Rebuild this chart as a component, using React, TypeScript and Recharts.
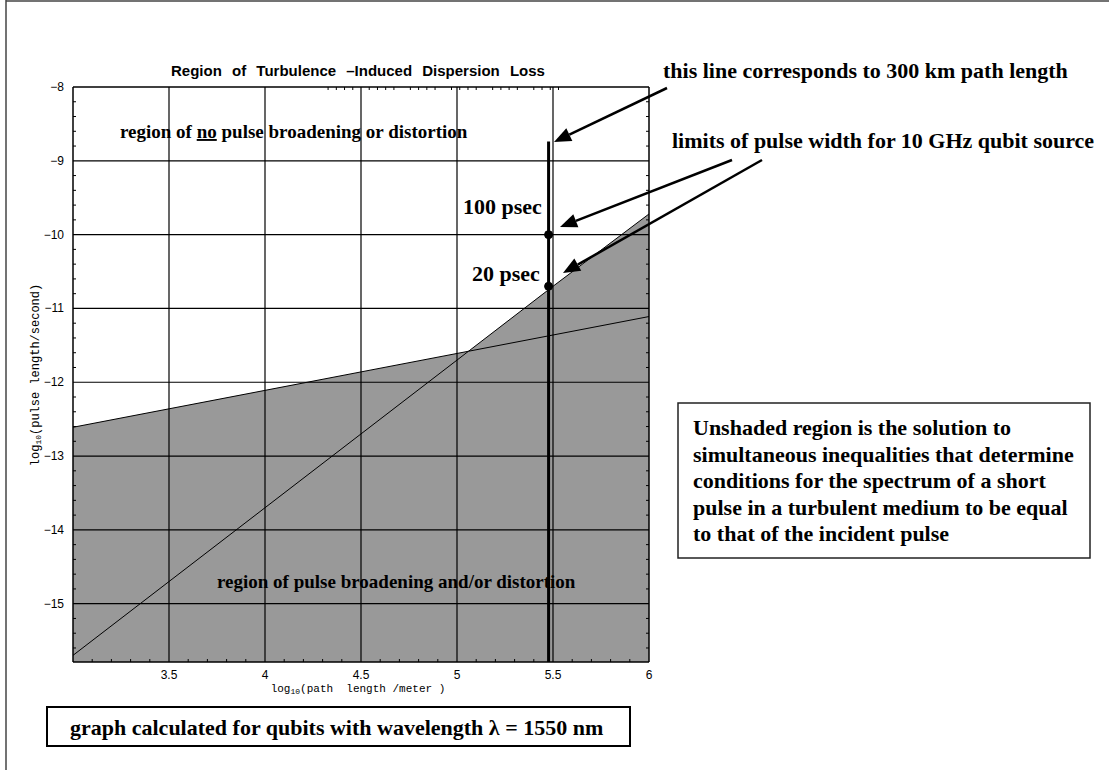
import React from 'react';
import { ComposedChart, Area, Line, XAxis, YAxis, ReferenceLine, ReferenceDot } from 'recharts';

// log10(path length / m) sample points, incl. the crossing of the two limits
const pathLength = [3, 3.5, 4, 4.5, 5, 5.06, 5.5, 6];
// shallow limit (dispersion)
const dispersionLimit = [-12.61, -12.36, -12.11, -11.86, -11.61, -11.58, -11.36, -11.11];
// steep limit (turbulence)
const turbulenceLimit = [-15.7, -14.7, -13.7, -12.7, -11.7, -11.58, -10.7, -9.72];

// 300 km path length marker and pulse width limits for a 10 GHz source
const path300km = 5.477;
const markerTop = -8.74;
const pulseLimits = [-10, -10.7];

const xTickLabels = [3.5, 4, 4.5, 5, 5.5, 6];
const yTickLabels = [-8, -9, -10, -11, -12, -13, -14, -15];
const xGrid = [3.5, 4, 4.5, 5, 5.5];
const yGrid = [-9, -10, -11, -12, -13, -14, -15];

const X_DOMAIN: [number, number] = [3, 6];
const Y_DOMAIN: [number, number] = [-15.79, -8];

const round = (v: number) => Math.round(v * 100) / 100;
const xTicks = Array.from({ length: 31 }, (_, i) => round(3 + i * 0.1));
const yTicks = Array.from({ length: 39 }, (_, i) => round(-15.6 + i * 0.2));

const rows = pathLength.map((x, i) => ({
  x,
  dispersion: dispersionLimit[i],
  turbulence: turbulenceLimit[i],
  envelope: Math.max(dispersionLimit[i], turbulenceLimit[i]),
}));

const SERIF = '"Liberation Serif", "Times New Roman", serif';
const SANS = '"Liberation Sans", Arial, sans-serif';
const MONO = '"Liberation Mono", "Courier New", monospace';

const near = (a: number, b: number) => Math.abs(a - b) < 1e-6;
const onStep = (v: number, step: number) => near(v / step, Math.round(v / step));

const BottomTick = ({ x, y, payload }: any) => {
  const v = payload.value;
  const label = xTickLabels.find((t) => near(t, v));
  return (
    <g>
      {!onStep(v, 0.5) && <line x1={x} x2={x} y1={y} y2={y - 3} stroke="#000" />}
      {label !== undefined && (
        <text x={x} y={y + 17} textAnchor="middle" fontFamily={SANS} fontSize={12} fill="#000">
          {String(label)}
        </text>
      )}
    </g>
  );
};

const TopTick = ({ x, y, payload }: any) =>
  onStep(payload.value, 0.5) ? <g /> : <line x1={x} x2={x} y1={y} y2={y + 3} stroke="#000" />;

const LeftTick = ({ x, y, payload }: any) => {
  const v = payload.value;
  const label = yTickLabels.find((t) => near(t, v));
  return (
    <g>
      {!onStep(v, 1) && <line x1={x} x2={x + 3} y1={y} y2={y} stroke="#000" />}
      {label !== undefined && (
        <text x={x - 9} y={y + 4} textAnchor="end" fontFamily={SANS} fontSize={12} fill="#000">
          {'\u2212' + Math.abs(label)}
        </text>
      )}
    </g>
  );
};

const RightTick = ({ x, y, payload }: any) =>
  onStep(payload.value, 1) ? <g /> : <line x1={x} x2={x - 3} y1={y} y2={y} stroke="#000" />;

const Arrow = ({ x1, y1, x2, y2 }: { x1: number; y1: number; x2: number; y2: number }) => {
  const len = Math.hypot(x2 - x1, y2 - y1);
  const ux = (x2 - x1) / len;
  const uy = (y2 - y1) / len;
  const hl = 17;
  const hw = 7;
  const bx = x2 - ux * hl;
  const by = y2 - uy * hl;
  return (
    <g>
      <line x1={x1} y1={y1} x2={bx} y2={by} stroke="#000" strokeWidth={2.5} />
      <polygon
        points={`${x2},${y2} ${bx - uy * hw},${by + ux * hw} ${bx + uy * hw},${by - ux * hw}`}
        fill="#000"
      />
    </g>
  );
};

const boxLines = [
  'Unshaded region is the solution to',
  'simultaneous inequalities that determine',
  'conditions for the spectrum of a short',
  'pulse in a turbulent medium to be equal',
  'to that of the incident pulse',
];

const axisLine = { stroke: '#000', strokeWidth: 1.5 };

export default function App() {
  return (
    <div style={{ position: 'absolute', left: 0, top: 0, width: 1109, height: 772, background: '#fff' }}>
      <ComposedChart
        width={1109}
        height={772}
        data={rows}
        margin={{ top: 86, right: 459, bottom: 80, left: 33 }}
      >
        <XAxis
          dataKey="x"
          type="number"
          domain={X_DOMAIN}
          allowDataOverflow
          ticks={xTicks}
          interval={0}
          height={30}
          tickSize={0}
          tickMargin={0}
          tickLine={false}
          axisLine={axisLine}
          tick={<BottomTick />}
        />
        <XAxis
          xAxisId="top"
          orientation="top"
          type="number"
          domain={X_DOMAIN}
          allowDataOverflow
          ticks={xTicks}
          interval={0}
          height={1}
          tickSize={0}
          tickMargin={0}
          tickLine={false}
          axisLine={axisLine}
          tick={<TopTick />}
        />
        <YAxis
          type="number"
          domain={Y_DOMAIN}
          allowDataOverflow
          ticks={yTicks}
          interval={0}
          width={40}
          tickSize={0}
          tickMargin={0}
          tickLine={false}
          axisLine={axisLine}
          tick={<LeftTick />}
        />
        <YAxis
          yAxisId="right"
          orientation="right"
          type="number"
          domain={Y_DOMAIN}
          allowDataOverflow
          ticks={yTicks}
          interval={0}
          width={1}
          tickSize={0}
          tickMargin={0}
          tickLine={false}
          axisLine={axisLine}
          tick={<RightTick />}
        />
        <Area
          dataKey="envelope"
          type="linear"
          baseValue="dataMin"
          fill="#999999"
          fillOpacity={1}
          stroke="none"
          isAnimationActive={false}
        />
        {xGrid.map((v) => (
          <ReferenceLine key={'gx' + v} x={v} stroke="#000" strokeWidth={1.2} />
        ))}
        {yGrid.map((v) => (
          <ReferenceLine key={'gy' + v} y={v} stroke="#000" strokeWidth={1.2} />
        ))}
        <Line dataKey="dispersion" type="linear" stroke="#000" strokeWidth={1} dot={false} isAnimationActive={false} />
        <Line dataKey="turbulence" type="linear" stroke="#000" strokeWidth={1} dot={false} isAnimationActive={false} />
        <ReferenceLine
          segment={[
            { x: path300km, y: markerTop },
            { x: path300km, y: Y_DOMAIN[0] },
          ]}
          stroke="#000"
          strokeWidth={3}
        />
        {pulseLimits.map((v) => (
          <ReferenceDot key={'p' + v} x={path300km} y={v} r={4} fill="#000" stroke="#000" />
        ))}
      </ComposedChart>

      <svg
        width={1109}
        height={772}
        style={{ position: 'absolute', left: 0, top: 0, pointerEvents: 'none' }}
      >
        <line x1={6} y1={0} x2={6} y2={770} stroke="#444" strokeWidth={1.5} />
        <line x1={6} y1={1} x2={1109} y2={1} stroke="#444" strokeWidth={1.5} />

        <text x={358} y={75.5} textAnchor="middle" fontFamily={SANS} fontWeight="bold" fontSize={15} wordSpacing={6}>
          Region of Turbulence –Induced Dispersion Loss
        </text>

        <g transform="translate(39,375) rotate(-90)">
          <text x={0} y={0} textAnchor="middle" fontFamily={MONO} fontSize={12} style={{ whiteSpace: 'pre' }}>
            log<tspan fontSize={8} dy={2}>10</tspan>
            <tspan dy={-2}>(pulse length/second)</tspan>
          </text>
        </g>
        <text x={358} y={692} textAnchor="middle" fontFamily={MONO} fontSize={11} style={{ whiteSpace: 'pre' }}>
          log<tspan fontSize={8} dy={2}>10</tspan>
          <tspan dy={-2}>{'(path  length /meter )'}</tspan>
        </text>

        <g fontFamily={SERIF} fontWeight="bold" fill="#000">
          <text x={120} y={138} fontSize={19}>
            region of <tspan style={{ textDecoration: 'underline' }}>no</tspan> pulse broadening or distortion
          </text>
          <text x={217} y={588} fontSize={19}>
            region of pulse broadening and/or distortion
          </text>
          <text x={463} y={214} fontSize={22}>100 psec</text>
          <text x={472} y={281} fontSize={22}>20 psec</text>
          <text x={663} y={78} fontSize={22}>this line corresponds to 300 km path length</text>
          <text x={672} y={148} fontSize={22}>limits of pulse width for 10 GHz qubit source</text>

          <rect x={678} y={403} width={412} height={155} fill="none" stroke="#222" strokeWidth={1.5} />
          {boxLines.map((t, i) => (
            <text key={t} x={693} y={435 + i * 26.5} fontSize={22}>
              {t}
            </text>
          ))}

          <rect x={47} y={707} width={583} height={39} fill="none" stroke="#000" strokeWidth={2} />
          <text x={70} y={735} fontSize={22}>
            graph calculated for qubits with wavelength λ = 1550 nm
          </text>
        </g>

        <Arrow x1={667} y1={88} x2={554} y2={142} />
        <Arrow x1={732} y1={160} x2={560} y2={227} />
        <Arrow x1={762} y1={160} x2={563} y2={273} />
      </svg>
    </div>
  );
}
